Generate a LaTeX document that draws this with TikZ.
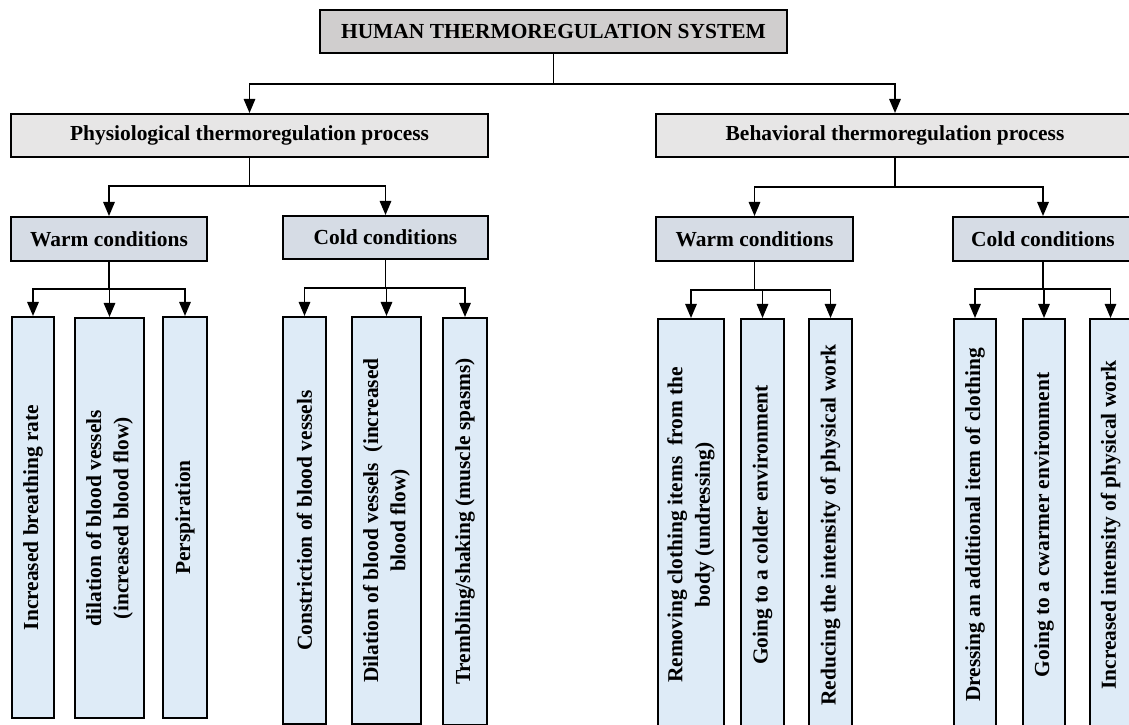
\documentclass[tikz,border=0pt]{standalone}
\usepackage{fontspec}
\setmainfont{Liberation Serif}
\usepackage{tikz}
\usetikzlibrary{arrows.meta,positioning}
\definecolor{titlegrey}{RGB}{208,206,206}
\definecolor{procgrey}{RGB}{231,230,230}
\definecolor{condblue}{RGB}{214,220,229}
\definecolor{leafblue}{RGB}{222,235,247}

\begin{document}
\begin{tikzpicture}[
    base/.style={rectangle, draw=black, line width=1.1pt, inner sep=2pt,
                 font=\fontsize{12.2}{15.6}\selectfont\bfseries, align=center},
    titlebox/.style={base, fill=titlegrey, minimum height=0.86cm},
    procbox/.style={base, fill=procgrey, minimum height=0.86cm},
    condbox/.style={base, fill=condblue, minimum height=0.88cm},
    leaf/.style={base, fill=leafblue, rotate=90, anchor=east},
    arr/.style={-{Triangle[length=8pt, width=6.5pt]}, line width=1pt, black}
]
    \useasboundingbox (0,0) rectangle (22.58,-14.50);

    % levels 1 and 2
    \node[titlebox, minimum width=9.34cm] (hts)   at (11.07,-0.63) {HUMAN THERMOREGULATION SYSTEM};
    \node[procbox,  minimum width=9.54cm] (phys)  at ( 4.99,-2.71) {Physiological thermoregulation process};
    \node[procbox,  minimum width=9.56cm] (behav) at (17.90,-2.71) {Behavioral thermoregulation process};

    % level 3
    \node[condbox, minimum width=3.92cm] (pwarm) at ( 2.18,-4.78) {Warm conditions};
    \node[condbox, minimum width=4.10cm, minimum height=0.86cm] (pcold) at ( 7.71,-4.75) {Cold conditions};
    \node[condbox, minimum width=3.94cm] (bwarm) at (15.09,-4.78) {Warm conditions};
    \node[condbox, minimum width=3.60cm] (bcold) at (20.86,-4.78) {Cold conditions};

    % leaves, physiological
    \node[leaf, minimum width=8.02cm, minimum height=0.84cm] (pw1) at (0.66,-6.32) {Increased breathing rate};
    \node[leaf, minimum width=8.00cm, minimum height=1.38cm] (pw2) at (2.19,-6.34) {dilation of blood vessels\\(increased blood flow)};
    \node[leaf, minimum width=8.02cm, minimum height=0.88cm] (pw3) at (3.70,-6.32) {Perspiration};
    \node[leaf, minimum width=8.14cm, minimum height=0.86cm] (pc1) at (6.09,-6.32) {Constriction of blood vessels};
    \node[leaf, minimum width=8.14cm, minimum height=1.38cm] (pc2) at (7.73,-6.32) {Dilation of blood vessels\ \ (increased\\blood flow)};
    \node[leaf, minimum width=8.14cm, minimum height=0.88cm] (pc3) at (9.30,-6.34) {Trembling/shaking (muscle spasms)};

    % leaves, behavioral
    \node[leaf, minimum width=8.24cm, minimum height=1.32cm] (bw1) at (13.82,-6.36) {Removing clothing items\ \ from the\\body (undressing)};
    \node[leaf, minimum width=8.24cm, minimum height=0.86cm] (bw2) at (15.25,-6.36) {Going to a colder environment};
    \node[leaf, minimum width=8.24cm, minimum height=0.86cm] (bw3) at (16.61,-6.36) {Reducing the intensity of physical work};
    \node[leaf, minimum width=8.24cm, minimum height=0.84cm] (bc1) at (19.50,-6.36) {Dressing an additional item of clothing};
    \node[leaf, minimum width=8.24cm, minimum height=0.84cm] (bc2) at (20.88,-6.36) {Going to a cwarmer environment};
    \node[leaf, minimum width=8.24cm, minimum height=0.82cm] (bc3) at (22.21,-6.36) {Increased intensity of physical work};

    % connectors
    \draw[arr] (hts.south) -- ++(0,-0.60) -| (phys.north);
    \draw[arr] (hts.south) -- ++(0,-0.60) -| (behav.north);

    \draw[arr] (phys.south) -- ++(0,-0.56) -| (pwarm.north);
    \draw[arr] (phys.south) -- ++(0,-0.56) -| (pcold.north);
    \draw[arr] (behav.south) -- ++(0,-0.58) -| (bwarm.north);
    \draw[arr] (behav.south) -- ++(0,-0.58) -| (bcold.north);

    \foreach \leafnode in {pw1,pw2,pw3}
        \draw[arr] (pwarm.south) -- ++(0,-0.54) -| (\leafnode.east);
    \foreach \leafnode in {pc1,pc2,pc3}
        \draw[arr] (pcold.south) -- ++(0,-0.56) -| (\leafnode.east);
    \foreach \leafnode in {bw1,bw2,bw3}
        \draw[arr] (bwarm.south) -- ++(0,-0.56) -| (\leafnode.east);
    \foreach \leafnode in {bc1,bc2,bc3}
        \draw[arr] (bcold.south) -- ++(0,-0.54) -| (\leafnode.east);
\end{tikzpicture}
\end{document}
